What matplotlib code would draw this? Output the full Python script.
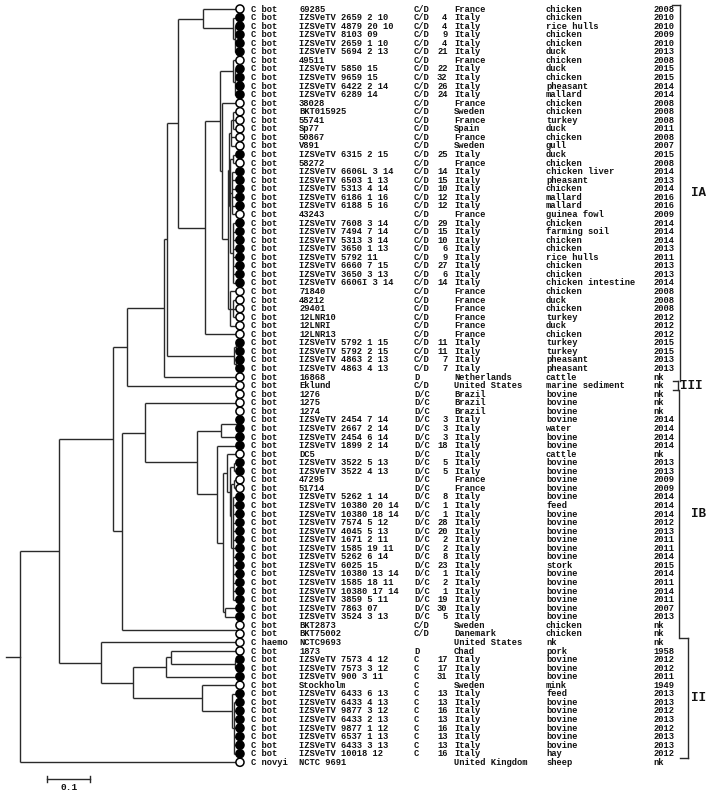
import matplotlib
matplotlib.use("Agg")
import matplotlib.pyplot as plt

# ---- tip data, top to bottom ----
species = ["C bot"] * 74 + ["C haemo"] + ["C bot"] * 13 + ["C novyi"]

strains = [
    "69285", "IZSVeTV 2659 2 10", "IZSVeTV 4879 20 10", "IZSVeTV 8103 09",
    "IZSVeTV 2659 1 10", "IZSVeTV 5694 2 13", "49511", "IZSVeTV 5850 15",
    "IZSVeTV 9659 15", "IZSVeTV 6422 2 14", "IZSVeTV 6289 14", "38028",
    "BKT015925", "55741", "Sp77", "50867", "V891", "IZSVeTV 6315 2 15", "58272",
    "IZSVeTV 6606L 3 14", "IZSVeTV 6503 1 13", "IZSVeTV 5313 4 14",
    "IZSVeTV 6186 1 16", "IZSVeTV 6188 5 16", "43243", "IZSVeTV 7608 3 14",
    "IZSVeTV 7494 7 14", "IZSVeTV 5313 3 14", "IZSVeTV 3650 1 13",
    "IZSVeTV 5792 11", "IZSVeTV 6660 7 15", "IZSVeTV 3650 3 13",
    "IZSVeTV 6606I 3 14", "71840", "48212", "29401", "12LNR10", "12LNRI",
    "12LNR13", "IZSVeTV 5792 1 15", "IZSVeTV 5792 2 15", "IZSVeTV 4863 2 13",
    "IZSVeTV 4863 4 13", "16868", "Eklund", "1276", "1275", "1274",
    "IZSVeTV 2454 7 14", "IZSVeTV 2667 2 14", "IZSVeTV 2454 6 14",
    "IZSVeTV 1899 2 14", "DC5", "IZSVeTV 3522 5 13", "IZSVeTV 3522 4 13",
    "47295", "51714", "IZSVeTV 5262 1 14", "IZSVeTV 10380 20 14",
    "IZSVeTV 10380 18 14", "IZSVeTV 7574 5 12", "IZSVeTV 4045 5 13",
    "IZSVeTV 1671 2 11", "IZSVeTV 1585 19 11", "IZSVeTV 5262 6 14",
    "IZSVeTV 6025 15", "IZSVeTV 10380 13 14", "IZSVeTV 1585 18 11",
    "IZSVeTV 10380 17 14", "IZSVeTV 3859 5 11", "IZSVeTV 7863 07",
    "IZSVeTV 3524 3 13", "BKT2873", "BKT75002", "NCTC9693", "1873",
    "IZSVeTV 7573 4 12", "IZSVeTV 7573 3 12", "IZSVeTV 900 3 11", "Stockholm",
    "IZSVeTV 6433 6 13", "IZSVeTV 6433 4 13", "IZSVeTV 9877 3 12",
    "IZSVeTV 6433 2 13", "IZSVeTV 9877 1 12", "IZSVeTV 6537 1 13",
    "IZSVeTV 6433 3 13", "IZSVeTV 10018 12", "NCTC 9691",
]

toxin_types = (["C/D"] * 43 + ["D", "C/D"] + ["D/C"] * 27
               + ["C/D", "C/D", "", "D"] + ["C"] * 12 + [""])

clusters = [
    "", "4", "4", "9", "4", "21", "", "22", "32", "26", "24", "", "", "", "", "",
    "", "25", "", "14", "15", "10", "12", "12", "", "29", "15", "10", "6", "9",
    "27", "6", "14", "", "", "", "", "", "", "11", "11", "7", "7", "", "", "",
    "", "", "3", "3", "3", "18", "", "5", "5", "", "", "8", "1", "1", "28", "20",
    "2", "2", "8", "23", "1", "2", "1", "19", "30", "5", "", "", "", "", "17",
    "17", "31", "", "13", "13", "16", "13", "16", "13", "13", "16", "",
]

countries = (["France"] + ["Italy"] * 5 + ["France"] + ["Italy"] * 4
             + ["France", "Sweden", "France", "Spain", "France", "Sweden",
                "Italy", "France"] + ["Italy"] * 5 + ["France"] + ["Italy"] * 8
             + ["France"] * 6 + ["Italy"] * 4
             + ["Netherlands", "United States"] + ["Brazil"] * 3
             + ["Italy"] * 7 + ["France"] * 2 + ["Italy"] * 15
             + ["Sweden", "Danemark", "United States", "Chad"] + ["Italy"] * 3
             + ["Sweden"] + ["Italy"] * 8 + ["United Kingdom"])

sources = [
    "chicken", "chicken", "rice hulls", "chicken", "chicken", "duck", "chicken",
    "duck", "chicken", "pheasant", "mallard", "chicken", "chicken", "turkey",
    "duck", "chicken", "gull", "duck", "chicken", "chicken liver", "pheasant",
    "chicken", "mallard", "mallard", "guinea fowl", "chicken", "farming soil",
    "chicken", "chicken", "rice hulls", "chicken", "chicken",
    "chicken intestine", "chicken", "duck", "chicken", "turkey", "duck",
    "chicken", "turkey", "turkey", "pheasant", "pheasant", "cattle",
    "marine sediment", "bovine", "bovine", "bovine", "bovine", "water",
    "bovine", "bovine", "cattle", "bovine", "bovine", "bovine", "bovine",
    "bovine", "feed", "bovine", "bovine", "bovine", "bovine", "bovine",
    "bovine", "stork", "bovine", "bovine", "bovine", "bovine", "bovine",
    "bovine", "chicken", "chicken", "nk", "pork", "bovine", "bovine", "bovine",
    "mink", "feed", "bovine", "bovine", "bovine", "bovine", "bovine", "bovine",
    "hay", "sheep",
]

years = [
    "2008", "2010", "2010", "2009", "2010", "2013", "2008", "2015", "2015",
    "2014", "2014", "2008", "2008", "2008", "2011", "2008", "2007", "2015",
    "2008", "2014", "2013", "2014", "2016", "2016", "2009", "2014", "2014",
    "2014", "2013", "2011", "2013", "2013", "2014", "2008", "2008", "2008",
    "2012", "2012", "2012", "2015", "2015", "2013", "2013", "nk", "nk", "nk",
    "nk", "nk", "2014", "2014", "2014", "2014", "nk", "2013", "2013", "2009",
    "2009", "2014", "2014", "2014", "2012", "2013", "2011", "2011", "2014",
    "2015", "2014", "2011", "2014", "2011", "2007", "2013", "nk", "nk", "nk",
    "1958", "2012", "2012", "2011", "1949", "2013", "2013", "2012", "2013",
    "2012", "2013", "2013", "2012", "nk",
]

# clade brackets: (label, first row, last row)
groups = [("IA", 0, 43), ("III", 44, 44), ("IB", 45, 73), ("II", 74, 87)]


# ---- tree: (node depth, children); ints are tip rows ----
def N(depth, *kids):
    return (depth, list(kids))


TIP_DEPTH = 0.508

ia_top = N(0.423, 0, N(0.492, 1, N(0.497, 2, 3, 4, 5)))
ia_s1 = N(0.483,
          N(0.488, N(0.493, 12, 13, 14), 15, 16),
          N(0.486, N(0.493, 17, 18), N(0.490, 19, 20, 21, 22, 23, 24),
            N(0.492, 25, 26, 27, 28, 29, 30, 31, 32)))
ia_s2 = N(0.485, 33, N(0.491, 34, 35, 36), 37)
ia_mid = N(0.427,
           N(0.462, N(0.492, 6, N(0.497, 7, 8, 9, 10)),
             N(0.466, 11, N(0.480, ia_s1, ia_s2))),
           38)
ia = N(0.339, N(0.365, ia_top, ia_mid), N(0.494, N(0.498, 39, 40), N(0.498, 41, 42)))
ia_iii = N(0.247, N(0.333, ia, 43), 44)

ib_core = N(0.469,
            N(0.478, 52, N(0.485, N(0.494, 53, 54),
                           N(0.487, N(0.494, 55, 56), N(0.492, *range(57, 70))))),
            N(0.473, 70, 71))
ib = N(0.236,
       N(0.289, N(0.500, 45, 46, 47),
         N(0.409, N(0.464, N(0.500, 48, 49), 50), N(0.455, 51, ib_core))),
       N(0.505, 72, 73))

grp_ii = N(0.187, 74,
           N(0.261, N(0.337, N(0.349, 75, N(0.497, 76, 77)), 78),
             N(0.420, 79, N(0.490, 80, N(0.494, *range(81, 88))))))

tree = N(0.0, N(0.090, N(0.215, ia_iii, ib), grp_ii), 88)

# ---- layout (pixels of the 716x800 figure) ----
W, H = 716, 800
ROOT_PX, PX_PER_UNIT = 20, 433
ROW0_PX, ROW_PX = 9, 8.56


def fx(px):
    return px / W


def yrow(py):
    return (py - ROW0_PX) / ROW_PX


fig = plt.figure(figsize=(W / 100, H / 100), dpi=100)
ax = fig.add_axes([0, 0, 1, 1])
ax.set_xlim(-ROOT_PX / PX_PER_UNIT, (W - ROOT_PX) / PX_PER_UNIT)
ax.set_ylim(yrow(H), yrow(0))
ax.axis("off")

LC = "#2a2a2a"
LW = 1.0


def draw(node):
    if isinstance(node, int):
        return TIP_DEPTH, node
    depth, kids = node
    pos = [draw(k) for k in kids]
    ys = [p[1] for p in pos]
    for (cx, cy) in pos:
        ax.plot([depth, cx], [cy, cy], color=LC, lw=LW, solid_capstyle="butt")
    ax.plot([depth, depth], [min(ys), max(ys)], color=LC, lw=LW,
            solid_capstyle="butt")
    return depth, (ys[0] + ys[-1]) / 2


root_x, root_y = draw(tree)
ax.plot([root_x - 14 / PX_PER_UNIT, root_x], [root_y, root_y], color=LC, lw=LW)

rows = list(range(len(strains)))
filled = ["black" if s.startswith("IZSVeTV") else "white" for s in strains]
ax.scatter([TIP_DEPTH] * len(rows), rows, s=34, c=filled, edgecolors="black",
           linewidths=1.1, zorder=3)

# ---- text columns ----
tr = ax.get_yaxis_transform()
font = dict(family="Liberation Mono", weight="bold", size=6.3, va="center",
            color="#111111")
for r in rows:
    ax.text(fx(251), r, species[r], transform=tr, **font)
    ax.text(fx(299), r, strains[r], transform=tr, **font)
    ax.text(fx(414), r, toxin_types[r], transform=tr, **font)
    ax.text(fx(447.5), r, clusters[r], transform=tr, ha="right", **font)
    ax.text(fx(454), r, countries[r], transform=tr, **font)
    ax.text(fx(546), r, sources[r], transform=tr, **font)
    ax.text(fx(653), r, years[r], transform=tr, **font)

# ---- clade brackets ----
bracket_x = {"IA": (672, 680), "III": (673, 678), "IB": (679, 679), "II": (680, 688)}
for label, first, last in groups:
    x0, x1 = bracket_x[label]
    top, bot = first - 0.5, last + 0.5
    ax.plot([fx(x1), fx(x1)], [top, bot], color=LC, lw=1.0, transform=tr)
    if x0 != x1:
        ax.plot([fx(x0), fx(x1)], [top, top], color=LC, lw=1.0, transform=tr)
        if label != "IA":
            ax.plot([fx(x0), fx(x1)], [bot, bot], color=LC, lw=1.0, transform=tr)
    lx = 680 if label == "III" else 691
    ax.text(fx(lx), (first + last) / 2, label, transform=tr, va="center",
            family="Liberation Mono", weight="bold", size=9, color="#111111")

# ---- scale bar ----
SCALE_LEN = 0.1
sb_x0 = (47 - ROOT_PX) / PX_PER_UNIT
sb_y = yrow(779)
ax.plot([sb_x0, sb_x0 + SCALE_LEN], [sb_y, sb_y], color=LC, lw=1.0)
for xx in (sb_x0, sb_x0 + SCALE_LEN):
    ax.plot([xx, xx], [sb_y - 0.35, sb_y + 0.35], color=LC, lw=1.0)
ax.text(sb_x0 + SCALE_LEN / 2, yrow(788), "0.1", ha="center", va="center",
        family="Liberation Mono", weight="bold", size=6.8, color="#111111")

fig.savefig("out.png", dpi=100)
